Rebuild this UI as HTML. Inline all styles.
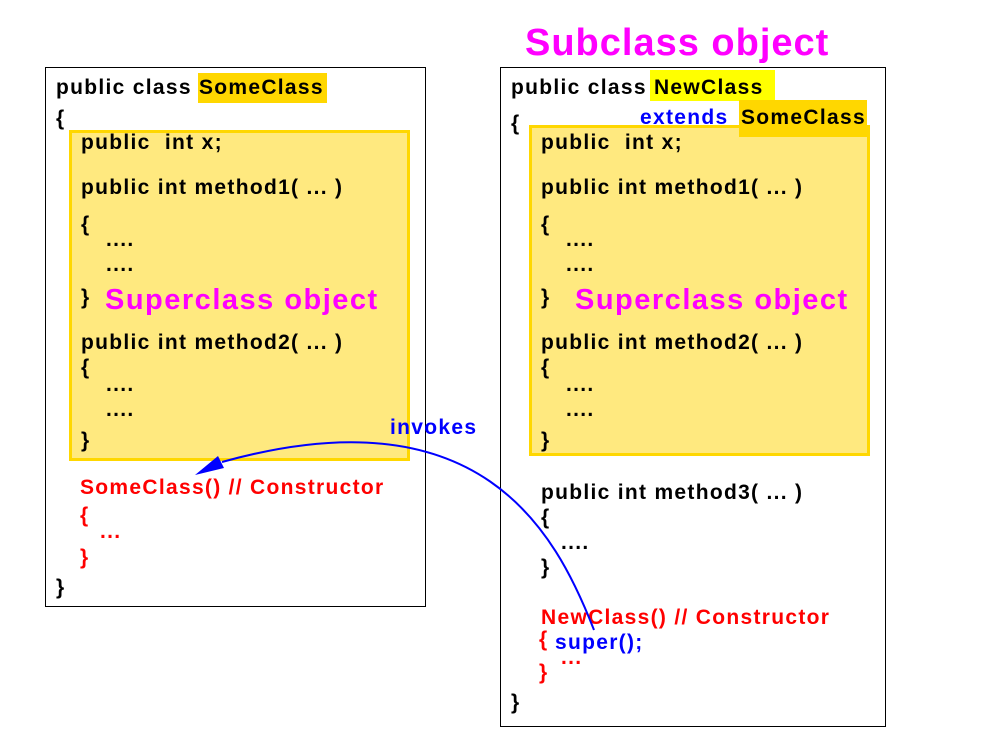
<!DOCTYPE html>
<html><head><meta charset="utf-8"><style>
body{margin:0;width:1005px;height:741px;background:#fff;position:relative;overflow:hidden;font-family:"Liberation Sans",Arial,sans-serif;font-weight:bold;}
div{position:absolute;}
.t{font-size:21px;line-height:24px;letter-spacing:1.3px;white-space:pre;color:#000;}
.r{color:#f00}.b{color:#00f}
.m{color:#f0f;white-space:pre;}
.s{font-size:29px;line-height:34px;letter-spacing:1.5px}
</style></head><body>
<div style="left:45px;top:67px;width:379px;height:538px;border:1px solid #000"></div>
<div style="left:500px;top:67px;width:384px;height:658px;border:1px solid #000"></div>
<div style="left:69px;top:130px;width:335px;height:325px;background:#ffe97f;border:3px solid #ffd700"></div>
<div style="left:529px;top:125px;width:335px;height:325px;background:#ffe97f;border:3px solid #ffd700"></div>
<div style="left:198px;top:73px;width:129px;height:30px;background:#ffd700"></div>
<div style="left:650px;top:70px;width:125px;height:31px;background:#ffff00"></div>
<div style="left:739px;top:100px;width:128px;height:37px;background:#ffd700"></div>

<div class="m" style="left:525px;top:20px;font-size:38px;line-height:46px;letter-spacing:1px">Subclass object</div>

<div class="t" style="left:56px;top:76px">public class SomeClass</div>
<div class="t" style="left:56px;top:107px">{</div>
<div class="t" style="left:81px;top:131px">public  int x;</div>
<div class="t" style="left:81px;top:176px">public int method1( ... )</div>
<div class="t" style="left:81px;top:213px">{</div>
<div class="t" style="left:106px;top:228px">....</div>
<div class="t" style="left:106px;top:253px">....</div>
<div class="t" style="left:81px;top:286px">}</div>
<div class="m s" style="left:105px;top:283px">Superclass object</div>
<div class="t" style="left:81px;top:331px">public int method2( ... )</div>
<div class="t" style="left:81px;top:356px">{</div>
<div class="t" style="left:106px;top:373px">....</div>
<div class="t" style="left:106px;top:398px">....</div>
<div class="t" style="left:81px;top:429px">}</div>
<div class="t r" style="left:80px;top:476px">SomeClass() // Constructor</div>
<div class="t r" style="left:80px;top:504px">{</div>
<div class="t r" style="left:100px;top:520px">...</div>
<div class="t r" style="left:80px;top:546px">}</div>
<div class="t" style="left:56px;top:576px">}</div>

<div class="t" style="left:511px;top:76px">public class NewClass</div>
<div class="t" style="left:511px;top:112px">{</div>
<div class="t b" style="left:640px;top:106px">extends</div>
<div class="t" style="left:741px;top:106px">SomeClass</div>
<div class="t" style="left:541px;top:131px">public  int x;</div>
<div class="t" style="left:541px;top:176px">public int method1( ... )</div>
<div class="t" style="left:541px;top:213px">{</div>
<div class="t" style="left:566px;top:228px">....</div>
<div class="t" style="left:566px;top:253px">....</div>
<div class="t" style="left:541px;top:286px">}</div>
<div class="m s" style="left:575px;top:283px">Superclass object</div>
<div class="t" style="left:541px;top:331px">public int method2( ... )</div>
<div class="t" style="left:541px;top:356px">{</div>
<div class="t" style="left:566px;top:373px">....</div>
<div class="t" style="left:566px;top:398px">....</div>
<div class="t" style="left:541px;top:429px">}</div>
<div class="t" style="left:541px;top:481px">public int method3( ... )</div>
<div class="t" style="left:541px;top:506px">{</div>
<div class="t" style="left:561px;top:531px">....</div>
<div class="t" style="left:541px;top:556px">}</div>
<div class="t r" style="left:541px;top:606px">NewClass() // Constructor</div>
<div class="t r" style="left:539px;top:628px">{</div>
<div class="t b" style="left:555px;top:631px">super();</div>
<div class="t r" style="left:561px;top:646px">...</div>
<div class="t r" style="left:539px;top:661px">}</div>
<div class="t" style="left:511px;top:691px">}</div>

<div class="t b" style="left:390px;top:416px">invokes</div>

<svg width="1005" height="741" style="position:absolute;left:0;top:0">
<path d="M594,630 C555,530 480,390 222,462" fill="none" stroke="#00f" stroke-width="2"/>
<polygon points="195,475 218,456 224,468" fill="#00f"/>
</svg>
</body></html>
